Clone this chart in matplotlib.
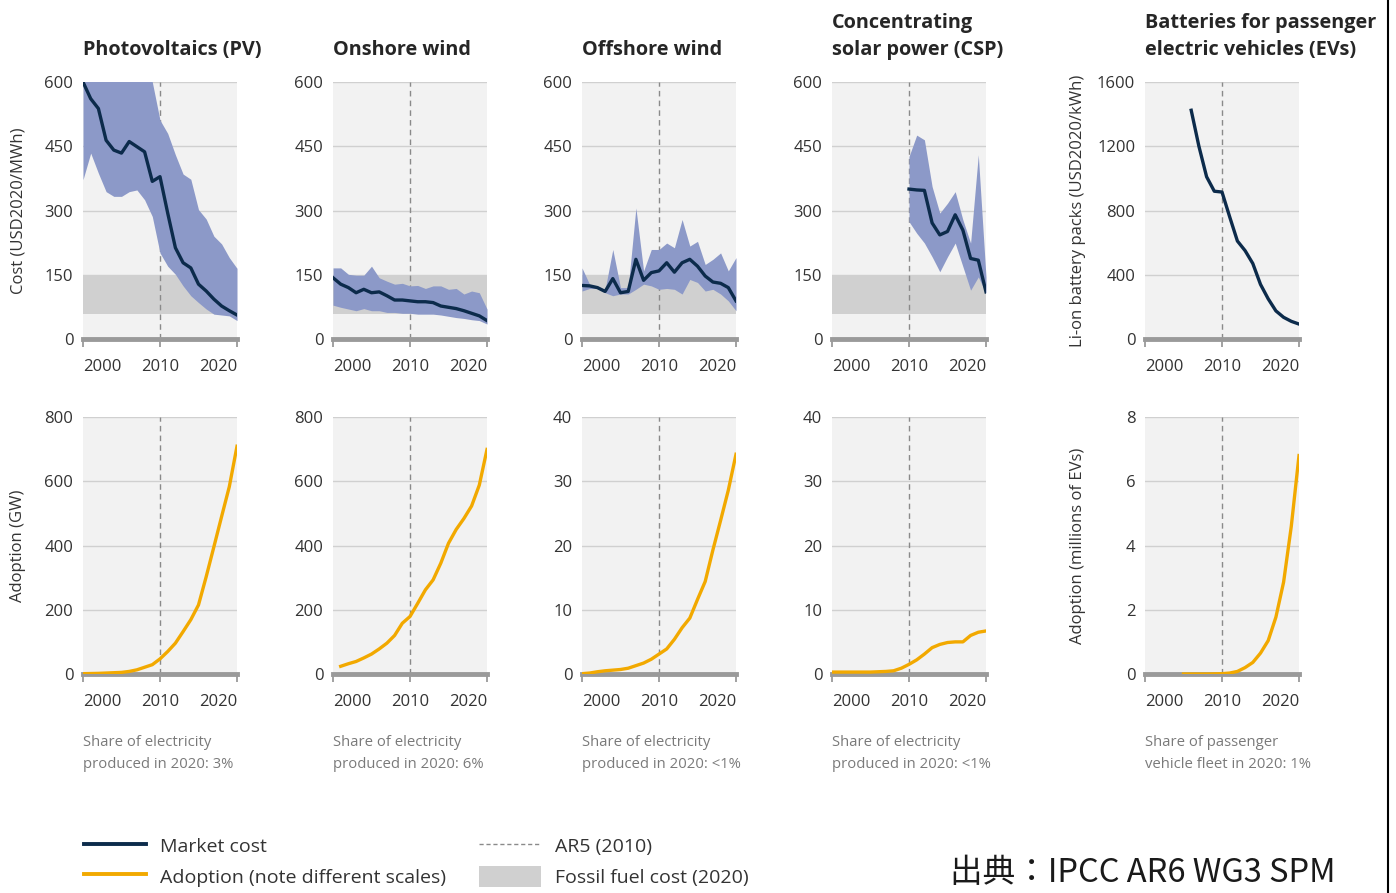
import matplotlib.pyplot as plt
from matplotlib.lines import Line2D
from matplotlib.patches import Patch

plt.rcParams['font.family'] = ['Open Sans', 'DejaVu Sans']

# ---- data ----
years = list(range(2000, 2021))
csp_years = list(range(2010, 2021))
ev_cost_years = list(range(2006, 2021))
ev_adopt_years = list(range(2005, 2021))
onshore_adopt_years = list(range(2001, 2021))

# cost, USD2020/MWh (market cost line, range low/high)
pv_cost = [600, 561, 538, 464, 441, 434, 461, 449, 437, 368, 379, 294, 213, 178, 166, 128, 112, 93, 77, 66, 56]
pv_high = [760, 760, 750, 740, 730, 720, 710, 700, 690, 600, 511, 480, 430, 385, 373, 302, 280, 240, 222, 190, 165]
pv_low = [372, 434, 387, 344, 333, 333, 344, 348, 325, 286, 201, 170, 151, 124, 101, 85, 70, 58, 56, 54, 43]

on_cost = [143, 128, 120, 108, 116, 108, 110, 101, 91, 91, 89, 87, 87, 85, 77, 74, 71, 66, 60, 54, 43]
on_high = [166, 166, 151, 149, 149, 170, 143, 135, 128, 130, 124, 125, 118, 124, 124, 116, 118, 105, 112, 108, 70]
on_low = [79, 74, 70, 66, 71, 66, 66, 62, 62, 60, 60, 58, 58, 58, 56, 53, 50, 48, 45, 43, 35]

off_cost = [125, 124, 120, 111, 141, 108, 111, 186, 137, 155, 159, 178, 156, 178, 186, 170, 147, 133, 130, 120, 89]
off_high = [166, 127, 124, 116, 209, 120, 120, 306, 159, 209, 209, 224, 213, 279, 217, 228, 174, 186, 201, 159, 190]
off_low = [112, 118, 118, 108, 101, 105, 105, 116, 128, 124, 116, 118, 116, 105, 139, 132, 112, 116, 105, 89, 66]

csp_cost = [350, 348, 347, 271, 243, 251, 290, 254, 188, 184, 110]
csp_high = [426, 476, 465, 356, 294, 317, 344, 278, 224, 430, 145]
csp_low = [274, 247, 224, 192, 157, 192, 224, 169, 114, 145, 107]

# Li-ion battery packs, USD2020/kWh
ev_cost = [1424, 1200, 1010, 920, 915, 760, 610, 550, 470, 340, 250, 175, 135, 110, 93]

# adoption
pv_adopt = [1, 1.5, 2, 3, 4, 5, 8, 13, 21, 29, 47, 70, 96, 132, 169, 215, 303, 396, 490, 583, 709]
on_adopt = [24, 32, 39, 50, 62, 78, 96, 120, 158, 179, 220, 262, 293, 345, 407, 450, 484, 523, 588, 699]
off_adopt = [0.05, 0.15, 0.35, 0.5, 0.6, 0.7, 0.9, 1.3, 1.7, 2.3, 3.1, 3.9, 5.4, 7.2, 8.7, 11.6, 14.4, 19.3, 23.9, 28.6, 34.2]
csp_adopt = [0.3, 0.3, 0.3, 0.3, 0.3, 0.3, 0.35, 0.4, 0.5, 0.9, 1.5, 2.2, 3.1, 4.1, 4.6, 4.9, 5.0, 5.0, 6.0, 6.5, 6.7]
ev_adopt = [0, 0, 0, 0, 0.005, 0.01, 0.03, 0.08, 0.2, 0.36, 0.65, 1.04, 1.77, 2.86, 4.6, 6.8]

fossil_band = (58, 147)

titles = ['Photovoltaics (PV)', 'Onshore wind', 'Offshore wind',
          'Concentrating\nsolar power (CSP)', 'Batteries for passenger\nelectric vehicles (EVs)']
notes = ['Share of electricity\nproduced in 2020: 3%',
         'Share of electricity\nproduced in 2020: 6%',
         'Share of electricity\nproduced in 2020: <1%',
         'Share of electricity\nproduced in 2020: <1%',
         'Share of passenger\nvehicle fleet in 2020: 1%']

NAVY = '#0c2b4b'
ORANGE = '#f2a900'
BAND = '#8c99c8'
FOSSIL = '#d0d0d0'
TXT = '#333333'

W, H = 1396, 893
fig = plt.figure(figsize=(W / 100, H / 100), dpi=100)

lefts = [83, 333, 582, 832, 1145]
aw, ah = 154, 257
top_zero, bot_zero = 339, 674


def make_ax(left, zero_px, ymax, step):
    ax = fig.add_axes([left / W, 1 - zero_px / H, aw / W, ah / H])
    ax.set_facecolor('#f2f2f2')
    ax.set_xlim(2000, 2020)
    ax.set_ylim(0, ymax)
    ax.set_yticks(list(range(0, ymax + 1, step)))
    for s in ax.spines.values():
        s.set_visible(False)
    ax.grid(axis='y', color='#d0d0d0', lw=1)
    ax.set_axisbelow(True)
    ax.tick_params(axis='y', length=0, pad=7, labelsize=12, labelcolor=TXT)
    ax.tick_params(axis='x', length=6, width=1.3, color='#9a9a9a', pad=8.5,
                   labelsize=12, labelcolor=TXT)
    ax.set_xticks([2000, 2010, 2020])
    labs = ax.set_xticklabels(['2000', '2010', '2020'])
    labs[0].set_ha('left')
    labs[2].set_ha('right')
    ax.axhline(0, color='#9a9a9a', lw=3.5, clip_on=False, zorder=2.5)
    ax.axvline(2010, color='#8a8a8a', lw=1, dashes=(4, 3), zorder=2)
    return ax


cost_sets = [
    (years, pv_cost, pv_low, pv_high),
    (years, on_cost, on_low, on_high),
    (years, off_cost, off_low, off_high),
    (csp_years, csp_cost, csp_low, csp_high),
]
adopt_sets = [
    (years, pv_adopt, 800, 200),
    (onshore_adopt_years, on_adopt, 800, 200),
    (years, off_adopt, 40, 10),
    (years, csp_adopt, 40, 10),
    (ev_adopt_years, ev_adopt, 8, 2),
]

for i in range(5):
    # top row: cost
    if i < 4:
        ax = make_ax(lefts[i], top_zero, 600, 150)
        yrs, c, lo, hi = cost_sets[i]
        ax.axhspan(fossil_band[0], fossil_band[1], color=FOSSIL, lw=0, zorder=1)
        ax.fill_between(yrs, lo, hi, color=BAND, lw=0, zorder=3)
        ax.plot(yrs, c, color=NAVY, lw=2.4, zorder=4)
    else:
        ax = make_ax(lefts[i], top_zero, 1600, 400)
        ax.plot(ev_cost_years, ev_cost, color=NAVY, lw=2.4, zorder=4)
    ax.annotate(titles[i], xy=(0, 1), xycoords='axes fraction', xytext=(0, 16),
                textcoords='offset points', ha='left', va='bottom', fontsize=14.3,
                fontweight='bold', color='#262626', linespacing=1.45)
    if i == 0:
        ax.text(-0.422, 0.5, 'Cost (USD2020/MWh)', rotation=90, transform=ax.transAxes,
                ha='center', va='center', fontsize=12, color=TXT)
    if i == 4:
        ax.text(-0.438, 0.5, 'Li-on battery packs (USD2020/kWh)', rotation=90,
                transform=ax.transAxes, ha='center', va='center', fontsize=12, color=TXT)

    # bottom row: adoption
    yrs, a, ymax, step = adopt_sets[i]
    bx = make_ax(lefts[i], bot_zero, ymax, step)
    bx.plot(yrs, a, color=ORANGE, lw=2.4, zorder=4)
    bx.annotate(notes[i], xy=(0, 0), xycoords='axes fraction', xytext=(0, -44),
                textcoords='offset points', ha='left', va='top', fontsize=10.7,
                color='#7a7a7a', linespacing=1.65)
    if i == 0:
        bx.text(-0.422, 0.5, 'Adoption (GW)', rotation=90, transform=bx.transAxes,
                ha='center', va='center', fontsize=12, color=TXT)
    if i == 4:
        bx.text(-0.438, 0.5, 'Adoption (millions of EVs)', rotation=90,
                transform=bx.transAxes, ha='center', va='center', fontsize=12, color=TXT)

handles = [
    Line2D([], [], color=NAVY, lw=2.8),
    Line2D([], [], color=ORANGE, lw=2.8),
    Line2D([], [], color='#8a8a8a', lw=1, dashes=(3, 2)),
    Patch(color=FOSSIL, lw=0),
]
labels = ['Market cost', 'Adoption (note different scales)', 'AR5 (2010)', 'Fossil fuel cost (2020)']
leg = fig.legend(handles, labels, loc='upper left', bbox_to_anchor=(84 / W, 1 - 835 / H),
                 ncol=2, frameon=False, fontsize=14, handlelength=3.2, handleheight=1.3,
                 handletextpad=0.7, columnspacing=1.7, labelspacing=0.5,
                 borderpad=0, borderaxespad=0)
for t in leg.get_texts():
    t.set_color(TXT)

fig.text(950 / W, 1 - 873 / H, '出典：IPCC AR6 WG3 SPM', fontsize=23.5,
         family=['Noto Sans CJK JP', 'DejaVu Sans'], ha='left', va='center', color='#1a1a1a')

fig.add_artist(Line2D([1388 / W, 1388 / W], [0, 1], color='black', lw=1.5,
                      transform=fig.transFigure))

fig.savefig('out.png', dpi=100)
